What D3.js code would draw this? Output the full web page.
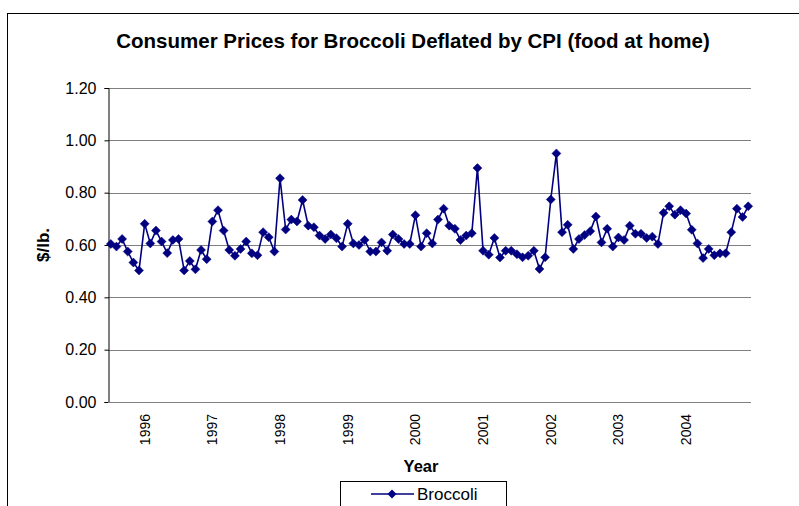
<!DOCTYPE html>
<html>
<head>
<meta charset="utf-8">
<script src="https://cdnjs.cloudflare.com/ajax/libs/d3/7.8.5/d3.min.js"></script>
<style>
  body { margin: 0; background: #fff; }
  text { font-family: Arial, "Liberation Sans", sans-serif; }
</style>
</head>
<body>
<svg width="799" height="506"></svg>
<script>
// monthly series, Jul 1995 .. Dec 2004
var startYear = 1995;
var startMonth = 7;
var prices = [
  0.604, 0.594, 0.623, 0.575, 0.533, 0.503,
  0.681, 0.606, 0.655, 0.613, 0.569, 0.619, 0.623, 0.503, 0.539, 0.507, 0.581, 0.546,
  0.690, 0.733, 0.655, 0.581, 0.559, 0.585, 0.613, 0.568, 0.561, 0.649, 0.630, 0.575,
  0.855, 0.659, 0.697, 0.690, 0.772, 0.674, 0.668, 0.636, 0.623, 0.640, 0.626, 0.594,
  0.681, 0.606, 0.600, 0.619, 0.575, 0.575, 0.610, 0.578, 0.640, 0.623, 0.604, 0.604,
  0.714, 0.594, 0.645, 0.606, 0.697, 0.739, 0.674, 0.662, 0.619, 0.636, 0.645, 0.894,
  0.578, 0.563, 0.627, 0.552, 0.578, 0.578, 0.565, 0.553, 0.559, 0.578, 0.508, 0.553,
  0.774, 0.950, 0.649, 0.677, 0.585, 0.623, 0.638, 0.653, 0.709, 0.610, 0.662, 0.594,
  0.629, 0.619, 0.674, 0.643, 0.643, 0.627, 0.632, 0.604, 0.723, 0.748, 0.716, 0.733,
  0.720, 0.658, 0.606, 0.550, 0.585, 0.561, 0.568, 0.568, 0.649, 0.739, 0.707, 0.748
];
var yearLabels = ["1996", "1997", "1998", "1999", "2000", "2001", "2002", "2003", "2004"];
var yTicks = [0, 0.2, 0.4, 0.6, 0.8, 1.0, 1.2];
var seriesName = "Broccoli";

// category keys "YYYY-MM"
var categories = prices.map(function (d, i) {
  var m = startMonth - 1 + i;
  return (startYear + Math.floor(m / 12)) + "-" + ((m % 12) + 1);
});

var svg = d3.select('svg');
var navy = '#000080';

// outer chart border (runs off the page on right / bottom)
svg.append('rect').attr('x', 7.5).attr('y', 13.5).attr('width', 820).attr('height', 520)
  .attr('fill', 'white').attr('stroke', 'black').attr('stroke-width', 1);

var plotL = 108, plotR = 751, plotT = 88, plotB = 402;

var x = d3.scaleBand().domain(categories).range([plotL, plotR]).padding(0);
var y = d3.scaleLinear().domain([0, 1.2]).range([plotB, plotT]);
var cx = function (c) { return x(c) + x.bandwidth() / 2; };

// gridlines
svg.append('g').selectAll('line').data(yTicks.slice(1)).enter().append('line')
  .attr('x1', plotL).attr('x2', plotR)
  .attr('y1', function (d) { return Math.round(y(d)) + 0.5; })
  .attr('y2', function (d) { return Math.round(y(d)) + 0.5; })
  .attr('stroke', '#808080').attr('stroke-width', 1.2);

// y axis
var yAxis = d3.axisLeft(y).tickValues(yTicks).tickFormat(d3.format('.2f')).tickSize(4).tickPadding(8);
var gy = svg.append('g').attr('transform', 'translate(' + (plotL + 0.5) + ',0)').call(yAxis);
gy.select('.domain').attr('stroke', 'black');
gy.selectAll('.tick line').attr('stroke', 'black');
gy.selectAll('.tick text').attr('font-size', 16).attr('fill', 'black')
  .attr('font-family', 'Arial, "Liberation Sans", sans-serif');

// x axis line
svg.append('line').attr('x1', plotL).attr('x2', plotR).attr('y1', plotB + 0.5).attr('y2', plotB + 0.5)
  .attr('stroke', '#808080').attr('stroke-width', 1.2);

// year labels at January of each year
svg.append('g').selectAll('text').data(yearLabels).enter().append('text')
  .attr('transform', function (d) {
    return 'translate(' + (cx(d + '-1') + 5) + ',' + (plotB + 12) + ') rotate(-90)';
  })
  .attr('text-anchor', 'end').attr('font-size', 14).attr('fill', 'black')
  .text(function (d) { return d; });

// series
var line = d3.line().x(function (d, i) { return cx(categories[i]); }).y(function (d) { return y(d); });
svg.append('path').datum(prices).attr('d', line)
  .attr('fill', 'none').attr('stroke', navy).attr('stroke-width', 1.6);

var diamond = 'M0,-4.5L4.5,0L0,4.5L-4.5,0Z';
svg.append('g').selectAll('path').data(prices).enter().append('path')
  .attr('d', diamond)
  .attr('transform', function (d, i) { return 'translate(' + cx(categories[i]) + ',' + y(d) + ')'; })
  .attr('fill', navy).attr('stroke', navy).attr('stroke-width', 0.5);

// titles
svg.append('text').attr('x', 413).attr('y', 48).attr('text-anchor', 'middle')
  .attr('font-size', 20.5).attr('font-weight', 'bold').attr('fill', 'black')
  .text('Consumer Prices for Broccoli Deflated by CPI (food at home)');

svg.append('text').attr('transform', 'translate(49,245) rotate(-90)').attr('text-anchor', 'middle')
  .attr('font-size', 17).attr('font-weight', 'bold').attr('fill', 'black').text('$/lb.');

svg.append('text').attr('x', 421).attr('y', 472).attr('text-anchor', 'middle')
  .attr('font-size', 16.5).attr('font-weight', 'bold').attr('fill', 'black').text('Year');

// legend
var lg = svg.append('g').attr('transform', 'translate(340,481)');
lg.append('rect').attr('x', 0.5).attr('y', 0.5).attr('width', 166).attr('height', 40)
  .attr('fill', 'white').attr('stroke', 'black').attr('stroke-width', 1);
lg.append('line').attr('x1', 31).attr('x2', 74).attr('y1', 13).attr('y2', 13)
  .attr('stroke', navy).attr('stroke-width', 1.6);
lg.append('path').attr('d', diamond).attr('transform', 'translate(52,13)').attr('fill', navy);
lg.append('text').attr('x', 77).attr('y', 19).attr('font-size', 17).attr('fill', 'black').text(seriesName);
</script>
</body>
</html>
